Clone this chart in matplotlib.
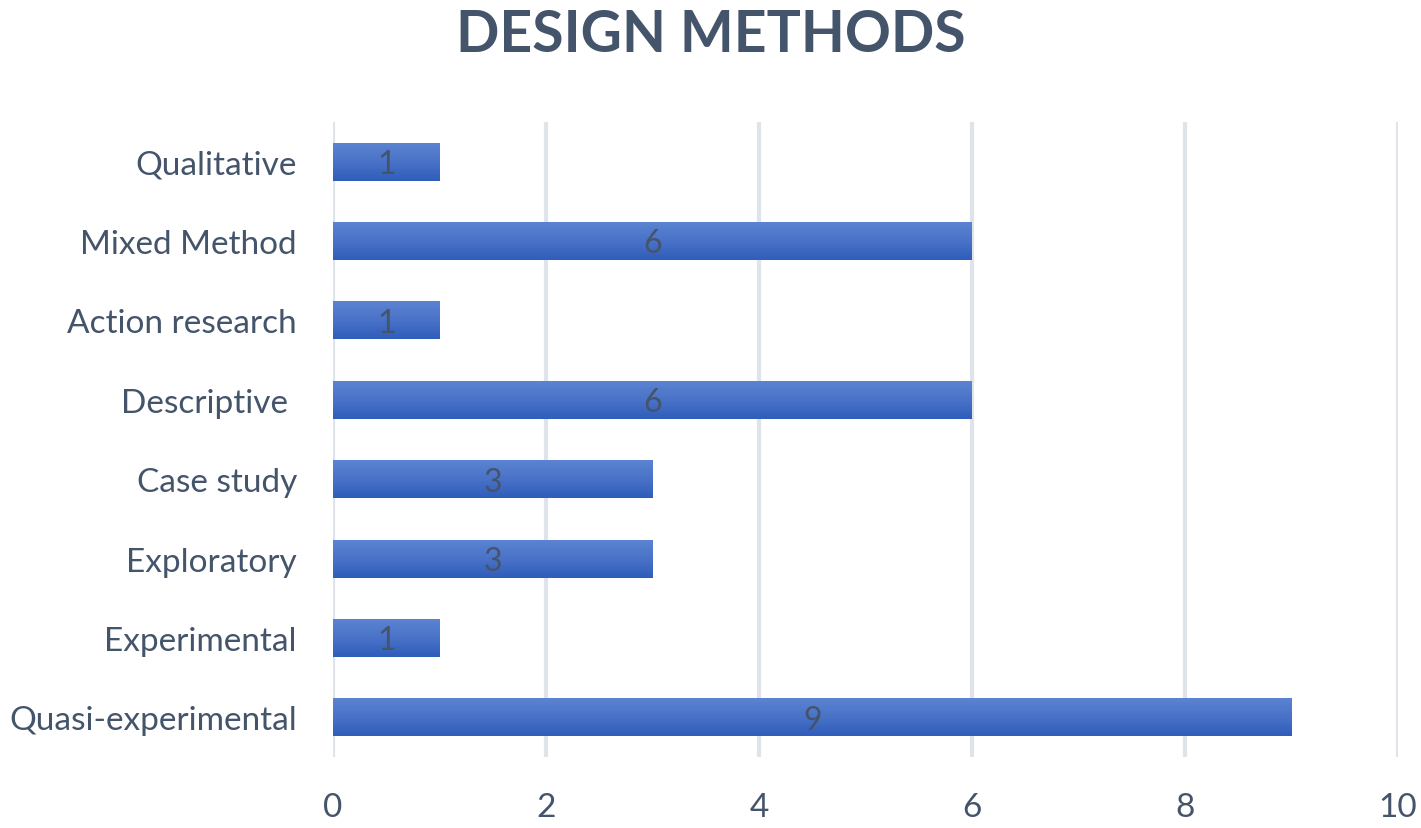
import matplotlib.pyplot as plt
import numpy as np
from matplotlib.colors import LinearSegmentedColormap

categories = ["Quasi-experimental", "Experimental", "Exploratory", "Case study",
              "Descriptive ", "Action research", "Mixed Method", "Qualitative"]
counts = [9, 1, 3, 3, 6, 1, 6, 1]
xticks = [0, 2, 4, 6, 8, 10]

text_col = "#44546a"
plt.rcParams['font.family'] = ['Lato', 'DejaVu Sans']

fig = plt.figure(figsize=(14.21, 8.29), dpi=100)
ax = fig.add_axes([333 / 1421, 1 - 758 / 829, (1398 - 333) / 1421, (758 - 123) / 829])

y = np.arange(len(categories))
bars = ax.barh(y, counts, height=0.48, color="#4472c4", zorder=2)

# vertical gradient on each bar
cmap = LinearSegmentedColormap.from_list("bar", ["#2f5dba", "#4a73c8", "#5c84d2"])
grad = np.linspace(0, 1, 100).reshape(-1, 1)
for b in bars:
    x0, y0, w, h = b.get_x(), b.get_y(), b.get_width(), b.get_height()
    im = ax.imshow(grad, cmap=cmap, aspect="auto", origin="lower",
                   extent=[x0, x0 + w, y0, y0 + h], zorder=3)
    im.set_clip_path(b)
    b.set_alpha(0)

for yi, v in zip(y, counts):
    ax.text(v / 2, yi - 0.03, str(v), ha="center", va="center", fontsize=23,
            color=text_col, zorder=4)

ax.set_xlim(0, 10)
ax.set_ylim(-0.5, len(categories) - 0.5)
ax.set_xticks(xticks)
ax.set_yticks(y)
ax.set_yticklabels(categories)
ax.tick_params(axis="both", length=0, labelsize=24, colors=text_col)
ax.tick_params(axis="y", pad=26)
ax.tick_params(axis="x", pad=25)
ax.grid(axis="x", color="#dfe3ea", linewidth=3, zorder=0)
for s in ax.spines.values():
    s.set_visible(False)

fig.text(0.5, 1 - 36 / 829, "DESIGN METHODS", ha="center", va="center",
         fontsize=41, fontweight="bold", color=text_col)

fig.savefig("out.png", dpi=100, facecolor="white")
